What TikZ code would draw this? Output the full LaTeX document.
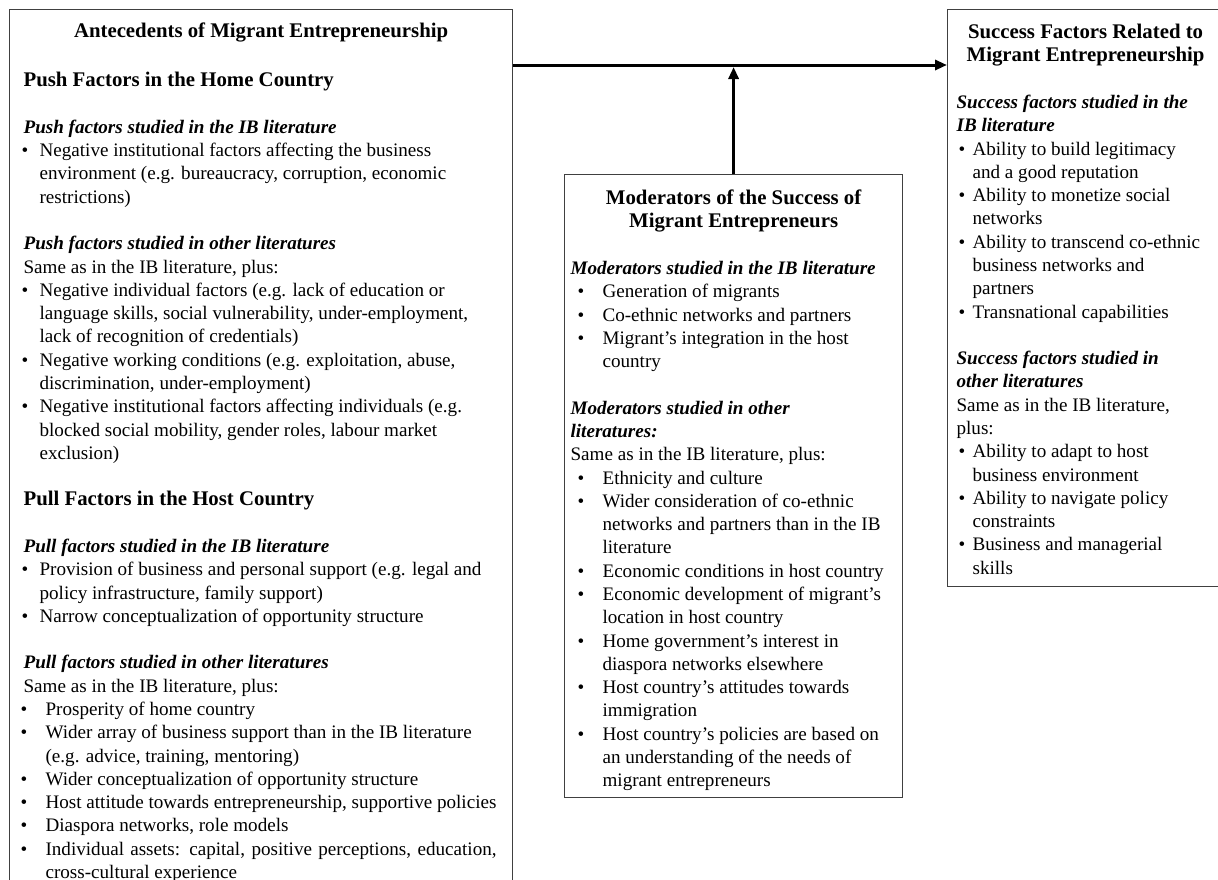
\documentclass[tikz,border=0pt]{standalone}
\usepackage{fontspec}
\setmainfont{Liberation Serif}
\usetikzlibrary{arrows.meta}
\newcommand\bodyfont{\fontsize{19.1pt}{23.29pt}\selectfont\lineskiplimit=-100pt\lineskip=0pt}
\newcommand\headfont{\fontsize{20.8pt}{23.29pt}\selectfont\bfseries}
\newcommand\subfont{\bfseries\itshape}
\newcommand\Ln[1]{\rlap{#1}}
\newcommand\Bl[3]{\rlap{\makebox[#2][l]{\hspace*{#1}•}#3}}
\newcommand\Cn[2]{\rlap{\hspace*{#1}#2}}
\tikzset{
  box/.style={draw=black!75, line width=1.2pt, inner ysep=0pt, align=left,
    font=\bodyfont, anchor=north west},
  conn/.style={line width=3pt, -{Triangle[length=12pt,width=10pt]}}
}
\begin{document}
\begin{tikzpicture}[x=1pt,y=-1pt]
\useasboundingbox (0,0) rectangle (1218,879);
\begin{scope}
\clip (0,0) rectangle (1218,879);
% Antecedents box
\node[box, inner xsep=14pt] (ante) at (9,9) {%
\makebox[475pt]{\headfont\rule{0pt}{28pt}Antecedents of Migrant Entrepreneurship}\\[2.5pt]
\mbox{}\\
\Ln{\headfont Push Factors in the Home Country}\\
\mbox{}\\
\Ln{\subfont Push factors studied in the IB literature}\\
\Bl{-2pt}{16pt}{Negative institutional factors affecting the business}\\
\Cn{16pt}{environment (e.g. bureaucracy, corruption, economic}\\
\Cn{16pt}{restrictions)}\\
\mbox{}\\
\Ln{\subfont Push factors studied in other literatures}\\
\Ln{Same as in the IB literature, plus:}\\
\Bl{-2pt}{16pt}{Negative individual factors (e.g. lack of education or}\\
\Cn{16pt}{language skills, social vulnerability, under-employment,}\\
\Cn{16pt}{lack of recognition of credentials)}\\
\Bl{-2pt}{16pt}{Negative working conditions (e.g. exploitation, abuse,}\\
\Cn{16pt}{discrimination, under-employment)}\\
\Bl{-2pt}{16pt}{Negative institutional factors affecting individuals (e.g.}\\
\Cn{16pt}{blocked social mobility, gender roles, labour market}\\
\Cn{16pt}{exclusion)}\\
\mbox{}\\
\Ln{\headfont Pull Factors in the Host Country}\\
\mbox{}\\
\Ln{\subfont Pull factors studied in the IB literature}\\
\Bl{-2pt}{16pt}{Provision of business and personal support (e.g. legal and}\\
\Cn{16pt}{policy infrastructure, family support)}\\
\Bl{-2pt}{16pt}{Narrow conceptualization of opportunity structure}\\
\mbox{}\\
\Ln{\subfont Pull factors studied in other literatures}\\
\Ln{Same as in the IB literature, plus:}\\
\Bl{-3pt}{22pt}{Prosperity of home country}\\
\Bl{-3pt}{22pt}{Wider array of business support than in the IB literature}\\
\Cn{22pt}{(e.g. advice, training, mentoring)}\\
\Bl{-3pt}{22pt}{Wider conceptualization of opportunity structure}\\
\Bl{-3pt}{22pt}{Host attitude towards entrepreneurship, supportive policies}\\
\Bl{-3pt}{22pt}{Diaspora networks, role models}\\
\Bl{-3pt}{22pt}{\makebox[451pt][s]{Individual assets: capital, positive perceptions, education,}}\\
\Cn{22pt}{cross-cultural experience\rule[-20pt]{0pt}{20pt}}};
% Moderators box
\node[box, inner xsep=6pt] (mod) at (564,174) {%
\makebox[326pt]{\headfont\rule{0pt}{30pt}Moderators of the Success of}\\
\makebox[326pt]{\headfont Migrant Entrepreneurs}\\
\mbox{}\\
\Ln{\subfont Moderators studied in the IB literature}\\
\Bl{7pt}{32pt}{Generation of migrants}\\
\Bl{7pt}{32pt}{Co-ethnic networks and partners}\\
\Bl{7pt}{32pt}{Migrant’s integration in the host}\\
\Cn{32pt}{country}\\
\mbox{}\\
\Ln{\subfont Moderators studied in other}\\
\Ln{\subfont literatures:}\\
\Ln{Same as in the IB literature, plus:}\\
\Bl{7pt}{32pt}{Ethnicity and culture}\\
\Bl{7pt}{32pt}{Wider consideration of co-ethnic}\\
\Cn{32pt}{networks and partners than in the IB}\\
\Cn{32pt}{literature}\\
\Bl{7pt}{32pt}{Economic conditions in host country}\\
\Bl{7pt}{32pt}{Economic development of migrant’s}\\
\Cn{32pt}{location in host country}\\
\Bl{7pt}{32pt}{Home government’s interest in}\\
\Cn{32pt}{diaspora networks elsewhere}\\
\Bl{7pt}{32pt}{Host country’s attitudes towards}\\
\Cn{32pt}{immigration}\\
\Bl{7pt}{32pt}{Host country’s policies are based on}\\
\Cn{32pt}{an understanding of the needs of}\\
\Cn{32pt}{migrant entrepreneurs\rule[-11pt]{0pt}{11pt}}};
% Success box
\node[box, inner xsep=9pt] (succ) at (947,9) {%
\makebox[258pt]{\headfont\rule{0pt}{29pt}Success Factors Related to}\\
\makebox[258pt]{\headfont Migrant Entrepreneurship}\\
\mbox{}\\
\Ln{\subfont Success factors studied in the}\\
\Ln{\subfont IB literature}\\
\Bl{2pt}{16pt}{Ability to build legitimacy}\\
\Cn{16pt}{and a good reputation}\\
\Bl{2pt}{16pt}{Ability to monetize social}\\
\Cn{16pt}{networks}\\
\Bl{2pt}{16pt}{Ability to transcend co-ethnic}\\
\Cn{16pt}{business networks and}\\
\Cn{16pt}{partners}\\
\Bl{2pt}{16pt}{Transnational capabilities}\\
\mbox{}\\
\Ln{\subfont Success factors studied in}\\
\Ln{\subfont other literatures}\\
\Ln{Same as in the IB literature,}\\
\Ln{plus:}\\
\Bl{2pt}{16pt}{Ability to adapt to host}\\
\Cn{16pt}{business environment}\\
\Bl{2pt}{16pt}{Ability to navigate policy}\\
\Cn{16pt}{constraints}\\
\Bl{2pt}{16pt}{Business and managerial}\\
\Cn{16pt}{skills\rule[-12pt]{0pt}{12pt}}};
% connectors
\coordinate (lvl) at (0,65);
\coordinate (tipv) at (733,67);
\draw[conn] (ante.east |- lvl) -- (succ.west |- lvl);
\draw[conn] (mod.north) -- (mod.north |- tipv);
\end{scope}
\end{tikzpicture}
\end{document}
